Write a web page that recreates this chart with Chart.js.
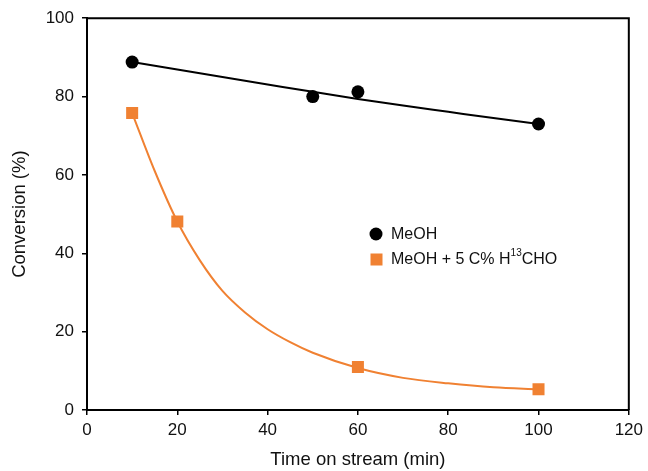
<!DOCTYPE html>
<html>
<head>
<meta charset="utf-8">
<style>
  html, body { margin: 0; padding: 0; background: #fff; }
  #wrap { width: 648px; height: 471px; }
</style>
<script src="https://cdn.jsdelivr.net/npm/chart.js@4/dist/chart.umd.min.js"></script>
</head>
<body>
<div id="wrap"><canvas id="chart"></canvas></div>
<script>
// measured points
const timeMeoh = [10, 50, 60, 100];
const convMeoh = [88.8, 80, 81.2, 73];
const timeHcho = [10, 20, 60, 100];
const convHcho = [75.8, 48.1, 11, 5.3];

// fitted curves
const fitTimeMeoh = [10, 20, 30, 40, 50, 60, 70, 80, 90, 100];
const fitMeoh = [88.8, 86.9, 85, 83.1, 81.2, 79.4, 77.7, 76.1, 74.5, 73];
const fitTimeHcho = [10, 15, 20, 25, 30, 35, 40, 45, 50, 60, 70, 80, 90, 100];
const fitHcho = [75.8, 61, 48.1, 38.2, 30.4, 24.9, 20.6, 17.3, 14.6, 10.7, 8.2, 6.8, 5.8, 5.3];

const xTicks = [0, 20, 40, 60, 80, 100, 120];

const black = "#000000";
const orange = "#F08132";
const font = "Liberation Sans, Arial, Helvetica, sans-serif";

function pts(xs, ys) {
  return xs.map((x, i) => ({ x: x, y: ys[i] }));
}

// closes the box and draws the legend
const boxAndLegend = {
  id: "boxAndLegend",
  afterDraw(chart) {
    const ctx = chart.ctx;
    const a = chart.chartArea;
    ctx.save();
    ctx.strokeStyle = black;
    ctx.lineWidth = 2;
    ctx.beginPath();
    ctx.moveTo(a.left, a.top);
    ctx.lineTo(a.right, a.top);
    ctx.lineTo(a.right, a.bottom);
    ctx.stroke();

    // legend
    ctx.fillStyle = black;
    ctx.beginPath();
    ctx.arc(376, 234, 6.5, 0, Math.PI * 2);
    ctx.fill();
    ctx.fillStyle = orange;
    ctx.fillRect(370.5, 253.5, 12, 12);

    ctx.fillStyle = "#111";
    ctx.textBaseline = "middle";
    ctx.font = "16px " + font;
    ctx.fillText("MeOH", 391, 235);
    let x = 391;
    const t1 = "MeOH + 5 C% H";
    ctx.fillText(t1, x, 260);
    x += ctx.measureText(t1).width;
    ctx.font = "10px " + font;
    ctx.fillText("13", x, 253);
    x += ctx.measureText("13").width;
    ctx.font = "16px " + font;
    ctx.fillText("CHO", x, 260);
    ctx.restore();
  }
};

new Chart(document.getElementById("chart"), {
  type: "scatter",
  data: {
    datasets: [
      {
        type: "line",
        data: pts(fitTimeMeoh, fitMeoh),
        borderColor: black,
        borderWidth: 2,
        pointRadius: 0,
        cubicInterpolationMode: "monotone",
        fill: false
      },
      {
        type: "line",
        data: pts(fitTimeHcho, fitHcho),
        borderColor: orange,
        borderWidth: 2,
        pointRadius: 0,
        cubicInterpolationMode: "monotone",
        fill: false
      },
      {
        label: "MeOH",
        data: pts(timeMeoh, convMeoh),
        backgroundColor: black,
        borderColor: black,
        pointStyle: "circle",
        pointRadius: 6.5,
        borderWidth: 0
      },
      {
        label: "MeOH + 5 C% H13CHO",
        data: pts(timeHcho, convHcho),
        backgroundColor: orange,
        borderColor: orange,
        pointStyle: "rect",
        pointRadius: 8.5,
        borderWidth: 0
      }
    ]
  },
  options: {
    responsive: true,
    maintainAspectRatio: false,
    animation: false,
    events: [],
    layout: { padding: { top: 17, right: 18, left: 0, bottom: 0 } },
    plugins: {
      legend: { display: false },
      tooltip: { enabled: false }
    },
    scales: {
      x: {
        type: "linear",
        min: 0,
        max: 120,
        afterBuildTicks(s) { s.ticks = xTicks.map(v => ({ value: v })); },
        afterFit(s) { s.height = 61; },
        grid: { drawOnChartArea: false, drawTicks: true, tickLength: 5, color: black, lineWidth: 1.5 },
        border: { color: black, width: 2 },
        ticks: { color: "#111", font: { family: font, size: 17 }, padding: 5, maxRotation: 0 },
        title: { display: true, text: "Time on stream (min)", color: "#111", font: { family: font, size: 18.5 }, padding: { top: 4, bottom: 0 } }
      },
      y: {
        min: 0,
        max: 100,
        afterFit(s) { s.width = 87; },
        grid: { drawOnChartArea: false, drawTicks: true, tickLength: 5, color: black, lineWidth: 1.5 },
        border: { color: black, width: 2 },
        ticks: { stepSize: 20, color: "#111", font: { family: font, size: 17 }, padding: 8 },
        title: { display: true, text: "Conversion (%)", color: "#111", font: { family: font, size: 18.5 }, padding: { top: 9, bottom: 9 } }
      }
    }
  },
  plugins: [boxAndLegend]
});
</script>
</body>
</html>
